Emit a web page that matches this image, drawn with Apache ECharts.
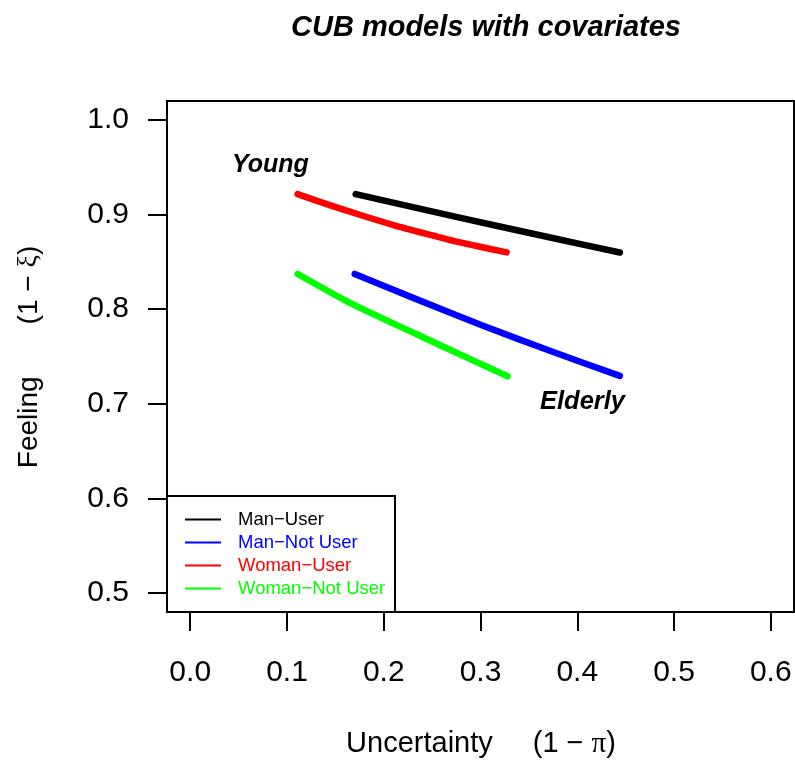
<!DOCTYPE html>
<html>
<head>
<meta charset="utf-8">
<script src="https://cdn.jsdelivr.net/npm/echarts@6/dist/echarts.min.js"></script>
<style>
html,body{margin:0;padding:0;background:#fff;}
#chart{width:795px;height:760px;}
</style>
</head>
<body>
<div id="chart"></div>
<script>
// ---- data ----
const seriesNames = ['Man\u2212User', 'Man\u2212Not User', 'Woman\u2212User', 'Woman\u2212Not User'];
const seriesColors = ['#000000', '#0000FF', '#FF0000', '#00FF00'];

const manUserX = [0.171, 0.245, 0.314, 0.378, 0.444];
const manUserY = [0.9216, 0.9044, 0.8887, 0.8744, 0.8599];

const manNotUserX = [0.170, 0.233, 0.302, 0.371, 0.444];
const manNotUserY = [0.8372, 0.8109, 0.7827, 0.7563, 0.7295];

const womanUserX = [0.111, 0.141, 0.176, 0.210, 0.245, 0.279, 0.327];
const womanUserY = [0.9216, 0.9111, 0.8995, 0.8889, 0.8794, 0.8706, 0.8600];

const womanNotUserX = [0.111, 0.164, 0.233, 0.285, 0.328];
const womanNotUserY = [0.8372, 0.8073, 0.7740, 0.7493, 0.7292];

const xTicks = [0.0, 0.1, 0.2, 0.3, 0.4, 0.5, 0.6];
const xTickLabels = ['0.0', '0.1', '0.2', '0.3', '0.4', '0.5', '0.6'];
const yTicks = [0.5, 0.6, 0.7, 0.8, 0.9, 1.0];
const yTickLabels = ['0.5', '0.6', '0.7', '0.8', '0.9', '1.0'];

const titleText = 'CUB models with covariates';
const youngLabel = 'Young';
const elderlyLabel = 'Elderly';

// ---- build ----
function pairs(xs, ys) { return xs.map((x, i) => [x, ys[i]]); }
const allX = [manUserX, manNotUserX, womanUserX, womanNotUserX];
const allY = [manUserY, manNotUserY, womanUserY, womanNotUserY];

function lookup(ticks, labels) {
  return function (v) {
    const i = ticks.findIndex(t => Math.abs(t - v) < 1e-9);
    return i >= 0 ? labels[i] : '';
  };
}

const FONT = '"Liberation Sans", Arial, sans-serif';
const SERIF = '"Liberation Serif", "DejaVu Serif", serif';
const chart = echarts.init(document.getElementById('chart'), null, { renderer: 'canvas' });

const option = {
  animation: false,
  backgroundColor: '#ffffff',
  textStyle: { fontFamily: FONT, color: '#000' },
  title: {
    text: titleText,
    left: 481,
    top: 8,
    textAlign: 'center',
    textStyle: { fontFamily: FONT, fontSize: 29, fontWeight: 'bold', fontStyle: 'italic', color: '#000' }
  },
  grid: {
    left: 167, top: 101, width: 627, height: 511,
    show: true, borderColor: '#000', borderWidth: 2, backgroundColor: 'transparent'
  },
  xAxis: {
    type: 'value', min: -0.024, max: 0.624,
    axisLine: { show: false, onZero: false },
    splitLine: { show: false },
    axisTick: { show: true, customValues: xTicks, length: 19, lineStyle: { color: '#000', width: 2 } },
    axisLabel: { customValues: xTicks, formatter: lookup(xTicks, xTickLabels), margin: 46, fontSize: 30, color: '#000', fontFamily: FONT }
  },
  yAxis: {
    type: 'value', min: 0.48, max: 1.02,
    axisLine: { show: false, onZero: false },
    splitLine: { show: false },
    axisTick: { show: true, customValues: yTicks, length: 19, lineStyle: { color: '#000', width: 2 } },
    axisLabel: { customValues: yTicks, formatter: lookup(yTicks, yTickLabels), margin: 38, fontSize: 30, color: '#000', fontFamily: FONT }
  },
  legend: {
    orient: 'vertical',
    left: 185, top: 510,
    padding: 0,
    itemWidth: 36, itemHeight: 2, itemGap: 4,
    icon: 'rect',
    selectedMode: false,
    textStyle: { fontSize: 18.5, lineHeight: 19, padding: [0, 0, 0, 12], fontFamily: FONT },
    data: seriesNames.map((n, i) => ({ name: n, textStyle: { color: seriesColors[i] } })),
    z: 10
  },
  graphic: [
    {
      type: 'rect', z: 5,
      shape: { x: 167, y: 496, width: 228, height: 116 },
      style: { fill: '#fff', stroke: '#000', lineWidth: 2 }
    },
    {
      type: 'text', z: 6,
      style: { text: youngLabel, x: 232, y: 165, align: 'left', verticalAlign: 'middle',
               fontFamily: FONT, fontSize: 25, fontWeight: 'bold', fontStyle: 'italic', fill: '#000' }
    },
    {
      type: 'text', z: 6,
      style: { text: elderlyLabel, x: 625, y: 402, align: 'right', verticalAlign: 'middle',
               fontFamily: FONT, fontSize: 25.5, fontWeight: 'bold', fontStyle: 'italic', fill: '#000' }
    },
    {
      type: 'text', z: 6,
      style: {
        text: '{a|Uncertainty}{s| }{a|(1 \u2212 }{p|\u03C0}{a|)}',
        x: 481, y: 744, align: 'center', verticalAlign: 'middle',
        rich: {
          a: { fontFamily: FONT, fontSize: 29, fill: '#000' },
          p: { fontFamily: SERIF, fontSize: 29, fill: '#000' },
          s: { width: 40 }
        }
      }
    },
    {
      type: 'text', z: 6,
      x: 29, y: 357, rotation: Math.PI / 2,
      style: {
        text: '{a|Feeling}{s| }{a|(1 \u2212 }{p|\u03BE}{a|)}',
        x: 0, y: 0, align: 'center', verticalAlign: 'middle',
        rich: {
          a: { fontFamily: FONT, fontSize: 28, fill: '#000' },
          p: { fontFamily: SERIF, fontSize: 28, fill: '#000' },
          s: { width: 52 }
        }
      }
    }
  ],
  series: seriesNames.map((n, i) => ({
    name: n,
    type: 'line',
    data: pairs(allX[i], allY[i]),
    showSymbol: false,
    symbol: 'none',
    smooth: 0.2,
    itemStyle: { color: seriesColors[i] },
    lineStyle: { width: 6.5, color: seriesColors[i], cap: 'round', join: 'round' },
    z: 3
  }))
};

chart.setOption(option);
</script>
</body>
</html>
